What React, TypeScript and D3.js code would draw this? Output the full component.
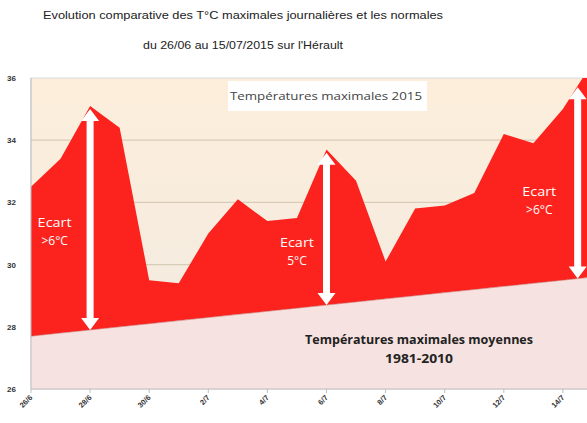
import * as d3 from "d3";
import { useEffect, useRef } from "react";

// daily values 26/06 -> 15/07/2015
const days = [
  "26/6", "27/6", "28/6", "29/6", "30/6", "1/7", "2/7", "3/7", "4/7", "5/7",
  "6/7", "7/7", "8/7", "9/7", "10/7", "11/7", "12/7", "13/7", "14/7", "15/7",
];
const tickLabels = ["26/6", "28/6", "30/6", "2/7", "4/7", "6/7", "8/7", "10/7", "12/7", "14/7"];
const maxTemps = [
  32.5, 33.4, 35.1, 34.4, 29.5, 29.4, 31.0, 32.1, 31.4, 31.5,
  33.7, 32.7, 30.1, 31.8, 31.9, 32.3, 34.2, 33.9, 35.0, 36.5,
];
const normals = [
  27.7, 27.8, 27.9, 28.0, 28.1, 28.2, 28.3, 28.4, 28.5, 28.6,
  28.7, 28.8, 28.9, 29.0, 29.1, 29.2, 29.3, 29.4, 29.5, 29.6,
];
const yTicks = [26, 28, 30, 32, 34, 36];

// "Ecart" annotations: position (day index), top value, bottom value, label
const arrowIdx = [2, 10, 18.5];
const arrowTop = [35.0, 33.6, 35.7];
const arrowBottom = [27.9, 28.7, 29.55];
const arrowLabels = [">6°C", "5°C", ">6°C"];
const labelIdx = [0.8, 9.0, 17.2];
const labelVal = [31.2, 30.55, 32.2];

const W = 587;
const H = 423;

export default function App() {
  const ref = useRef<SVGSVGElement>(null);

  useEffect(() => {
    if (!ref.current) return;
    const svg = d3.select(ref.current);
    svg.selectAll("*").remove();

    const left = 31;
    const top = 78;
    const bottom = 389;
    const step = 29.55;

    const x = d3.scaleLinear().domain([0, 1]).range([left, left + step]);
    const y = d3.scaleLinear().domain([26, 36]).range([bottom, top]);
    const right = x(days.length - 1);

    const defs = svg.append("defs");
    const grad = defs
      .append("linearGradient")
      .attr("id", "bg")
      .attr("x1", 0)
      .attr("y1", 0)
      .attr("x2", 0)
      .attr("y2", 1);
    grad.append("stop").attr("offset", "0%").attr("stop-color", "#fdeedb");
    grad.append("stop").attr("offset", "100%").attr("stop-color", "#f0eae1");
    defs
      .append("clipPath")
      .attr("id", "plot")
      .append("rect")
      .attr("x", left)
      .attr("y", top)
      .attr("width", right - left)
      .attr("height", bottom - top);

    // titles
    const title = svg
      .append("g")
      .attr("font-family", "Liberation Sans, Arial, sans-serif")
      .attr("fill", "#222")
      .attr("text-anchor", "middle");
    title
      .append("text")
      .attr("x", 243)
      .attr("y", 19)
      .attr("font-size", 10.5)
      .attr("textLength", 400)
      .attr("lengthAdjust", "spacingAndGlyphs")
      .text("Evolution comparative des T°C maximales journalières et les normales");
    title
      .append("text")
      .attr("x", 243)
      .attr("y", 49)
      .attr("font-size", 10.5)
      .attr("textLength", 200)
      .attr("lengthAdjust", "spacingAndGlyphs")
      .text("du 26/06 au 15/07/2015 sur l'Hérault");

    // plot background
    svg
      .append("rect")
      .attr("x", left)
      .attr("y", top)
      .attr("width", right - left)
      .attr("height", bottom - top)
      .attr("fill", "url(#bg)")
      .attr("stroke", "#d9d9d9")
      .attr("stroke-width", 1);

    const plot = svg.append("g").attr("clip-path", "url(#plot)");

    // gridlines
    plot
      .selectAll("line.grid")
      .data(yTicks.filter((t) => t > 26 && t < 36))
      .join("line")
      .attr("x1", left)
      .attr("x2", right)
      .attr("y1", (d) => y(d))
      .attr("y2", (d) => y(d))
      .attr("stroke", "#d8ccb8")
      .attr("stroke-width", 1.2);

    // red area: normal -> daily max
    const redArea = d3
      .area<number>()
      .x((_, i) => x(i))
      .y0((_, i) => y(normals[i]))
      .y1((d) => y(d));
    plot.append("path").datum(maxTemps).attr("d", redArea).attr("fill", "#fc231e");

    // pink area: baseline -> normal
    const normArea = d3
      .area<number>()
      .x((_, i) => x(i))
      .y0(y(26))
      .y1((d) => y(d));
    plot.append("path").datum(normals).attr("d", normArea).attr("fill", "#f6e2e0");
    plot
      .append("path")
      .datum(normals)
      .attr(
        "d",
        d3
          .line<number>()
          .x((_, i) => x(i))
          .y((d) => y(d))
      )
      .attr("fill", "none")
      .attr("stroke", "#c9605a")
      .attr("stroke-width", 0.6);

    // axes
    svg
      .append("line")
      .attr("x1", left)
      .attr("x2", left)
      .attr("y1", top)
      .attr("y2", bottom)
      .attr("stroke", "#bfbfbf");
    svg
      .append("line")
      .attr("x1", left)
      .attr("x2", right)
      .attr("y1", bottom)
      .attr("y2", bottom)
      .attr("stroke", "#bfbfbf");

    svg
      .append("g")
      .selectAll("text")
      .data(yTicks)
      .join("text")
      .attr("x", 16)
      .attr("y", (d) => y(d) + 3)
      .attr("text-anchor", "end")
      .attr("font-family", "Liberation Sans, Arial, sans-serif")
      .attr("font-size", 8)
      .attr("font-weight", "bold")
      .attr("fill", "#333")
      .text((d) => d);

    const xt = svg.append("g");
    xt.selectAll("line")
      .data(tickLabels)
      .join("line")
      .attr("x1", (d) => x(days.indexOf(d)))
      .attr("x2", (d) => x(days.indexOf(d)))
      .attr("y1", bottom)
      .attr("y2", bottom + 4)
      .attr("stroke", "#bfbfbf");
    xt.selectAll("text")
      .data(tickLabels)
      .join("text")
      .attr(
        "transform",
        (d) => `translate(${x(days.indexOf(d)) + 2},${bottom + 9}) rotate(-45)`
      )
      .attr("text-anchor", "end")
      .attr("font-family", "Liberation Sans, Arial, sans-serif")
      .attr("font-size", 7.5)
      .attr("font-weight", "bold")
      .attr("fill", "#333")
      .text((d) => d);

    // legend box
    const lg = svg.append("g");
    lg.append("rect")
      .attr("x", 228)
      .attr("y", 81)
      .attr("width", 199)
      .attr("height", 30)
      .attr("fill", "#fff");
    lg.append("text")
      .attr("x", 326)
      .attr("y", 100)
      .attr("text-anchor", "middle")
      .attr("font-family", "Open Sans, sans-serif")
      .attr("font-size", 11.5)
      .attr("textLength", 192)
      .attr("lengthAdjust", "spacingAndGlyphs")
      .attr("fill", "#444")
      .text("Températures maximales 2015");

    // normal label
    const nl = svg
      .append("g")
      .attr("font-family", "Open Sans, sans-serif")
      .attr("font-weight", "bold")
      .attr("font-size", 12)
      .attr("fill", "#222")
      .attr("text-anchor", "middle");
    nl.append("text")
      .attr("x", 419)
      .attr("y", 344)
      .attr("textLength", 228)
      .attr("lengthAdjust", "spacingAndGlyphs")
      .text("Températures maximales moyennes");
    nl.append("text")
      .attr("x", 419)
      .attr("y", 363)
      .attr("textLength", 68)
      .attr("lengthAdjust", "spacingAndGlyphs")
      .text("1981-2010");

    // double arrows
    const shaft = 3.5;
    const headW = 9;
    const headL = 12;
    const arrowPath = (cx: number, y1: number, y2: number) =>
      `M${cx},${y1} L${cx + headW},${y1 + headL} L${cx + shaft},${y1 + headL} ` +
      `L${cx + shaft},${y2 - headL} L${cx + headW},${y2 - headL} L${cx},${y2} ` +
      `L${cx - headW},${y2 - headL} L${cx - shaft},${y2 - headL} L${cx - shaft},${y1 + headL} ` +
      `L${cx - headW},${y1 + headL} Z`;
    svg
      .append("g")
      .selectAll("path")
      .data(arrowIdx)
      .join("path")
      .attr("d", (d, i) => arrowPath(x(d), y(arrowTop[i]), y(arrowBottom[i])))
      .attr("fill", "#fff");

    const al = svg
      .append("g")
      .attr("font-family", "Open Sans, sans-serif")
      .attr("font-size", 12)
      .attr("fill", "#fff")
      .attr("text-anchor", "middle");
    arrowLabels.forEach((lab, i) => {
      al.append("text")
        .attr("x", x(labelIdx[i]))
        .attr("y", y(labelVal[i]))
        .attr("textLength", 34)
        .attr("lengthAdjust", "spacingAndGlyphs")
        .text("Ecart");
      al.append("text")
        .attr("x", x(labelIdx[i]))
        .attr("y", y(labelVal[i]) + 18)
        .text(lab);
    });
  }, []);

  return (
    <svg
      ref={ref}
      width={W}
      height={H}
      style={{ position: "absolute", left: 0, top: 0, background: "#fff" }}
    />
  );
}
